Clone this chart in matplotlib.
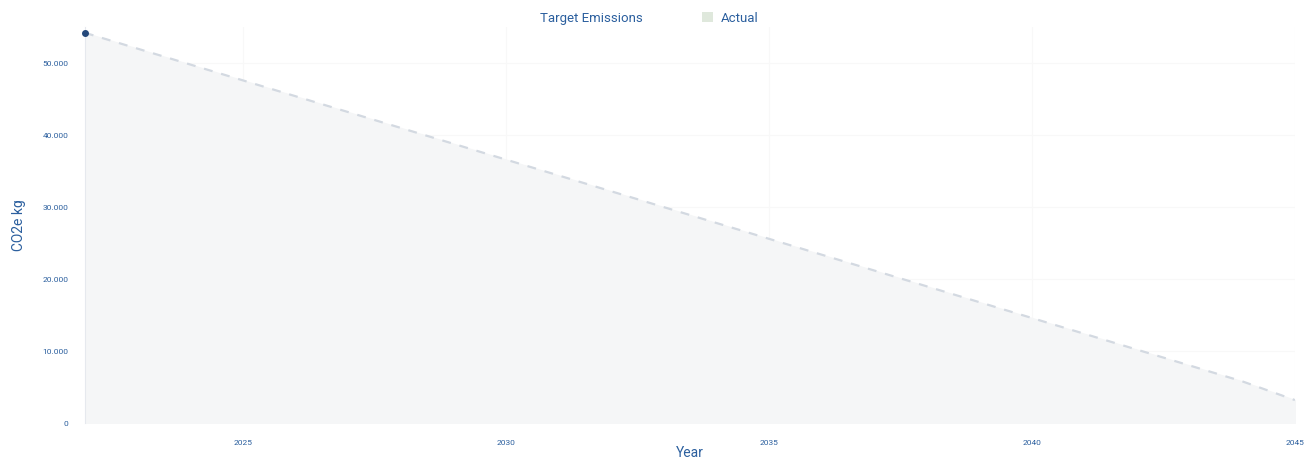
import numpy as np
import matplotlib.pyplot as plt
from matplotlib.ticker import FuncFormatter
from matplotlib.lines import Line2D
from matplotlib.patches import Patch

plt.rcParams['font.family'] = ['Roboto', 'DejaVu Sans']

# --- data ---
years = list(range(2022, 2046))
target = [54200, 52000, 49800, 47600, 45400, 43200, 41000, 38800, 36600, 34400,
          32200, 30000, 27800, 25600, 23400, 21200, 19000, 16800, 14600, 12400,
          10200, 8000, 5800, 3200]
actual_years = [2022]
actual = [54200]
x_ticks = [2025, 2030, 2035, 2040, 2045]
y_ticks = [0, 10000, 20000, 30000, 40000, 50000]

blue = "#2b5f9e"

fig = plt.figure(figsize=(13.06, 4.66), dpi=100)
ax = fig.add_axes([0.065, 0.092, 0.9265, 0.85])

ax.fill_between(years, target, 0, color="#f5f6f7", zorder=1)
ax.plot(years, target, color="#d3d9e1", lw=1.6, ls=(0, (4, 4)), zorder=2)
ax.plot(actual_years, actual, "o", color="#24487a", ms=4, zorder=3, clip_on=False)

ax.set_xlim(2022, 2045)
ax.set_ylim(0, 55000)
ax.set_xticks(x_ticks)
ax.set_yticks(y_ticks)
ax.yaxis.set_major_formatter(FuncFormatter(lambda v, p: f"{int(v):,}".replace(",", ".")))
ax.tick_params(axis="both", length=0, labelsize=6, labelcolor=blue)
ax.tick_params(axis="x", pad=12)
ax.tick_params(axis="y", pad=12)
ax.grid(True, color="#f8f8f8", lw=0.8)
for s in ["top", "right", "bottom"]:
    ax.spines[s].set_visible(False)
ax.spines["left"].set_color("#e6e9ee")
ax.set_axisbelow(True)

ax.set_xlabel("Year", color=blue, fontsize=10, labelpad=0)
ax.set_ylabel("CO2e kg", color=blue, fontsize=10, labelpad=12)

handles = [Line2D([], [], color="none", label="Target Emissions"),
           Patch(facecolor="#dfe8dc", edgecolor="none", label="Actual")]
leg = fig.legend(handles=handles, loc="upper center", bbox_to_anchor=(0.49, 1.0), ncol=2,
                 frameon=False, fontsize=9.5, handlelength=0.8, handleheight=0.8,
                 columnspacing=4.5, handletextpad=0.6)
for t in leg.get_texts():
    t.set_color(blue)

fig.savefig("out.png", dpi=100)
